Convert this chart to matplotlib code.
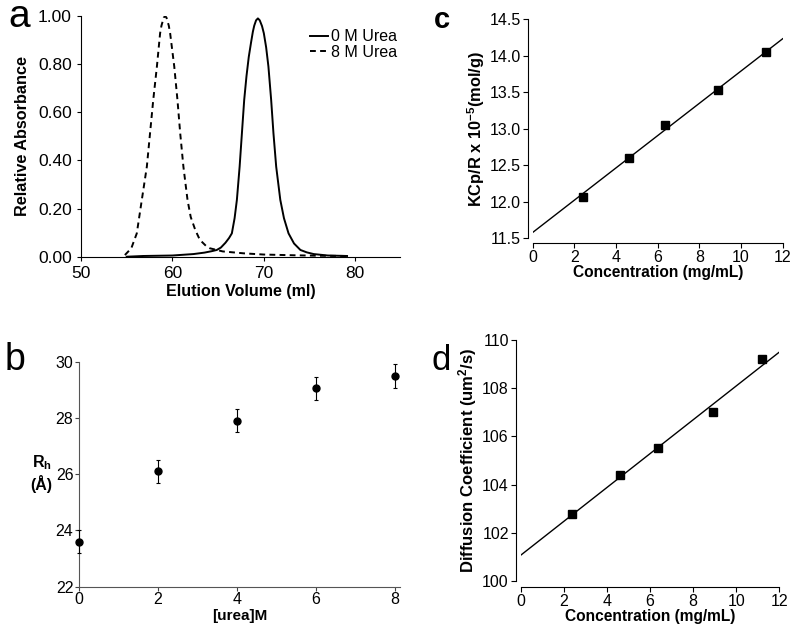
import matplotlib
matplotlib.use("Agg")
import matplotlib.pyplot as plt

plt.rcParams['font.family'] = ['Liberation Sans', 'DejaVu Sans']
plt.rcParams['mathtext.fontset'] = 'custom'
plt.rcParams['mathtext.rm'] = 'Liberation Sans'
plt.rcParams['mathtext.bf'] = 'Liberation Sans:bold'
plt.rcParams['mathtext.default'] = 'bf'

# panel a: elution profiles
vol_0m = [55.0, 56.8, 60.0, 62.3, 63.5, 64.3, 64.85, 65.3, 65.8, 66.2, 66.5, 66.8, 67.05,
          67.35, 67.6, 67.85, 68.1, 68.35, 68.6, 68.8, 68.95, 69.15, 69.35, 69.55, 69.8,
          70.0, 70.25, 70.5, 70.8, 71.05, 71.35, 71.8, 72.2, 72.7, 73.3, 74.0, 74.7,
          75.45, 77.0, 79.1]
abs_0m = [0.0, 0.003, 0.005, 0.011, 0.017, 0.023, 0.028, 0.038, 0.058, 0.078, 0.097, 0.16, 0.236,
          0.374, 0.513, 0.651, 0.75, 0.83, 0.89, 0.935, 0.96, 0.982, 0.99, 0.982, 0.958,
          0.928, 0.87, 0.79, 0.651, 0.513, 0.374, 0.236, 0.16, 0.097, 0.055, 0.028, 0.018,
          0.011, 0.005, 0.003]
vol_8m = [54.8, 55.5, 56.1, 56.65, 57.2, 57.55, 57.9, 58.3, 58.65, 58.8, 58.95, 59.05, 59.2,
          59.35, 59.45, 59.6, 59.75, 60.2, 60.55, 60.85, 61.2, 61.65, 62.0, 62.5, 63.0,
          63.75, 64.1, 65.5, 67.8, 70.0, 73.25, 76.0, 79.1]
abs_8m = [0.007, 0.035, 0.097, 0.236, 0.374, 0.513, 0.651, 0.79, 0.928, 0.96, 0.98, 0.993, 1.0,
          0.993, 0.98, 0.96, 0.928, 0.79, 0.651, 0.513, 0.374, 0.236, 0.165, 0.111, 0.07,
          0.042, 0.035, 0.022, 0.014, 0.009, 0.006, 0.004, 0.003]

# panel b: hydrodynamic radius vs urea
urea = [0, 2, 4, 6, 8]
rh = [23.6, 26.1, 27.9, 29.05, 29.5]
rh_err = [0.4, 0.4, 0.4, 0.4, 0.42]

# panel c: static light scattering
conc = [2.4, 4.6, 6.35, 8.9, 11.2]
kcr = [12.07, 12.6, 13.05, 13.53, 14.05]
kcr_fit_x = [0, 12]
kcr_fit_y = [11.58, 14.23]

# panel d: diffusion coefficient
diff = [102.8, 104.4, 105.5, 107.0, 109.2]
diff_fit_x = [0, 12]
diff_fit_y = [101.07, 109.5]

fig = plt.figure(figsize=(7.99, 6.37), dpi=100)

# ---- a
ax = fig.add_axes([0.1014, 0.597, 0.3993, 0.3779])
ax.plot(vol_0m, abs_0m, color='black', lw=1.4, label='0 M Urea')
ax.plot(vol_8m, abs_8m, color='black', lw=1.4, ls=(0, (3, 2.2)), label='8 M Urea')
ax.set_xlim(50, 84.9)
ax.set_ylim(0, 1.0)
ax.set_xticks([50, 60, 70, 80])
ax.set_yticks([0, 0.2, 0.4, 0.6, 0.8, 1.0])
ax.set_yticklabels(['0.00', '0.20', '0.40', '0.60', '0.80', '1.00'])
ax.tick_params(labelsize=12.5, length=3, width=0.8)
ax.set_xlabel('Elution Volume (ml)', fontsize=11.5, fontweight='bold', labelpad=2)
ax.set_ylabel('Relative Absorbance', fontsize=11.7, fontweight='bold', labelpad=6)
for s in ['top', 'right']:
    ax.spines[s].set_visible(False)
ax.legend(loc='upper right', bbox_to_anchor=(1.02, 0.985), frameon=False, fontsize=11.5,
          handlelength=1.1, handletextpad=0.2, labelspacing=0.05, borderaxespad=0.2)

# ---- b
ax = fig.add_axes([0.0989, 0.079, 0.4018, 0.3532])
ax.errorbar(urea, rh, yerr=rh_err, fmt='o', color='black', ms=5, elinewidth=0.8,
            capsize=1.5, capthick=0.8, clip_on=False, zorder=3)
ax.set_xlim(0, 8.13)
ax.set_ylim(22, 30)
ax.set_xticks([0, 2, 4, 6, 8])
ax.set_yticks([22, 24, 26, 28, 30])
ax.tick_params(labelsize=11.5, length=3, width=0.8, colors='#444444', labelcolor='black', pad=1)
ax.set_xlabel('[urea]M', fontsize=11, fontweight='bold', labelpad=1)
for s in ['top', 'right']:
    ax.spines[s].set_visible(False)
for s in ['left', 'bottom']:
    ax.spines[s].set_color('#555555')
fig.text(32 / 799, 1 - 467 / 637, 'R$_{h}$', fontsize=11.5, fontweight='bold', va='baseline')
fig.text(30 / 799, 1 - 490 / 637, '(Å)', fontsize=11.5, fontweight='bold', va='baseline')

# ---- c
ax = fig.add_axes([0.6667, 0.6259, 0.3129, 0.3443])
ax.plot(kcr_fit_x, kcr_fit_y, color='black', lw=1.0)
ax.plot(conc, kcr, 's', color='black', ms=5.5)
ax.set_xlim(0, 12)
ax.set_ylim(11.5, 14.5)
ax.set_xticks(range(0, 13, 2))
ax.set_yticks([11.5, 12.0, 12.5, 13.0, 13.5, 14.0, 14.5])
ax.tick_params(labelsize=11.5, length=3.5, width=0.8, pad=1.5)
ax.set_xlabel('Concentration (mg/mL)', fontsize=11.2, fontweight='bold', labelpad=0)
ax.set_ylabel('KCp/R x 10$^{-5}$(mol/g)', fontsize=11.8, fontweight='bold', labelpad=2)
for s in ['top', 'right']:
    ax.spines[s].set_visible(False)
ax.spines['left'].set_position(('outward', 3.6))
ax.spines['bottom'].set_position(('outward', 3.6))

# ---- d
ax = fig.add_axes([0.6517, 0.0879, 0.3237, 0.3783])
ax.plot(diff_fit_x, diff_fit_y, color='black', lw=1.0)
ax.plot(conc, diff, 's', color='black', ms=5.5)
ax.set_xlim(0, 12)
ax.set_ylim(100, 110)
ax.set_xticks(range(0, 13, 2))
ax.set_yticks(range(100, 111, 2))
ax.tick_params(labelsize=11.5, length=3.5, width=0.8, pad=1.5)
ax.set_xlabel('Concentration (mg/mL)', fontsize=11.2, fontweight='bold', labelpad=0)
ax.set_ylabel('Diffusion Coefficient (um$^{2}$/s)', fontsize=12, fontweight='bold', labelpad=2)
for s in ['top', 'right']:
    ax.spines[s].set_visible(False)
ax.spines['left'].set_position(('outward', 3.6))
ax.spines['bottom'].set_position(('outward', 4.1))

# panel letters
fig.text(8 / 799, 1 - 27 / 637, 'a', fontsize=28, va='baseline')
fig.text(5 / 799, 1 - 370 / 637, 'b', fontsize=27, va='baseline')
fig.text(434 / 799, 1 - 28 / 637, 'c', fontsize=21, fontweight='bold', va='baseline')
fig.text(431 / 799, 1 - 370 / 637, 'd', fontsize=25, va='baseline')

fig.savefig('out.png', dpi=100)
